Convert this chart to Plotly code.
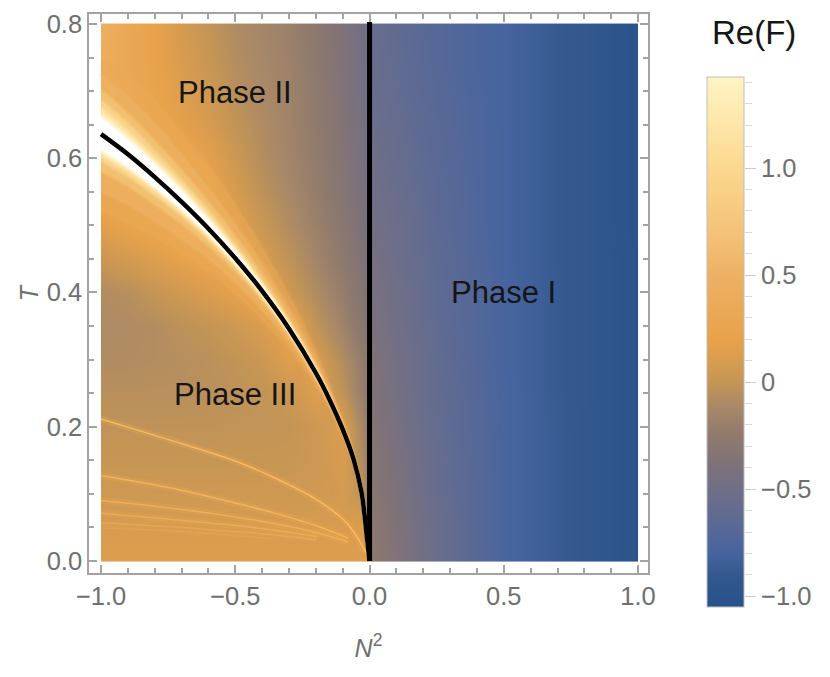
import plotly.graph_objects as go

# background Re(F), smooth part only (the glow along the curve is on top)
x_grid = [-1, -.9, -.8, -.7, -.6, -.5, -.4, -.3, -.2, -.1, -.03, -.003, .003, .1, .25, .5, .75, 1]
t_grid = [0, .02, .05, .1, .15, .2, .25, .3, .35, .4, .45, .5, .55, .6, .65, .7, .75, .8]
z_grid = [
    [.13, .13, .13, .13, .13, .13, .13, .13, .13, .13, .13, .13, -.25, -.36, -.54, -.78, -.89, -1.0],
    [.12, .12, .12, .12, .12, .12, .12, .12, .12, .12, .12, .0, -.26, -.37, -.55, -.78, -.89, -1.0],
    [.09, .09, .09, .09, .09, .09, .09, .09, .09, .1, .13, -.22, -.27, -.38, -.55, -.78, -.89, -1.0],
    [.05, .05, .05, .05, .05, .05, .05, .05, .06, .08, -.02, -.24, -.3, -.4, -.57, -.78, -.89, -1.0],
    [.015, .015, .015, .015, .015, .015, .015, .02, .04, .1, -.08, -.25, -.32, -.42, -.58, -.78, -.89, -1.0],
    [-.02, -.02, -.02, -.02, -.02, -.01, -.01, .0, .05, .12, -.13, -.27, -.34, -.44, -.59, -.78, -.89, -1.0],
    [-.05, -.05, -.05, -.05, -.04, -.03, -.01, .03, .14, -.02, -.2, -.29, -.36, -.46, -.6, -.78, -.9, -1.0],
    [-.08, -.08, -.07, -.06, -.04, -.01, .04, .14, .1, -.08, -.23, -.31, -.38, -.47, -.61, -.79, -.9, -1.0],
    [-.1, -.09, -.07, -.03, .0, .05, .12, .2, -.01, -.17, -.3, -.37, -.4, -.49, -.62, -.79, -.9, -1.0],
    [-.08, -.05, .01, .06, .12, .18, .22, .05, -.09, -.22, -.34, -.4, -.42, -.5, -.63, -.79, -.9, -1.0],
    [.03, .08, .14, .2, .24, .25, .1, -.02, -.15, -.27, -.37, -.43, -.44, -.52, -.64, -.8, -.9, -1.0],
    [.16, .22, .27, .28, .28, .16, .03, -.08, -.19, -.3, -.4, -.45, -.47, -.53, -.65, -.8, -.9, -1.01],
    [.28, .3, .3, .3, .22, .09, -.03, -.12, -.22, -.33, -.42, -.47, -.49, -.55, -.66, -.8, -.9, -1.01],
    [.32, .32, .3, .24, .17, .04, -.07, -.15, -.24, -.34, -.44, -.49, -.51, -.57, -.67, -.8, -.9, -1.01],
    [.36, .33, .26, .17, .1, -.01, -.09, -.16, -.25, -.36, -.45, -.5, -.53, -.58, -.68, -.8, -.9, -1.01],
    [.38, .32, .22, .13, .05, -.05, -.11, -.17, -.26, -.37, -.46, -.5, -.54, -.6, -.69, -.8, -.9, -1.01],
    [.42, .31, .2, .1, .02, -.07, -.13, -.18, -.27, -.38, -.47, -.51, -.55, -.61, -.7, -.8, -.9, -1.01],
    [.48, .3, .19, .08, .0, -.09, -.14, -.19, -.28, -.39, -.48, -.52, -.56, -.62, -.7, -.8, -.9, -1.01],
]

# phase boundary, N^2 and T
curve_x = [-1, -.9, -.8, -.7, -.6, -.5, -.4, -.3, -.2, -.15, -.1, -.06, -.03, -.01, 0]
curve_t = [.636, .606, .572, .535, .495, .451, .402, .346, .28, .241, .196, .152, .102, .036, 0]
line_x = [0, 0]
line_t = [0, .803]

# how far each level of the glow reaches above / below the curve, in T
glow_colors = ['rgba(235,170,86,.5)', 'rgba(237,177,98,.75)', '#f2c072', '#f9d286', '#fce0a0', '#fff0c0', '#ffffff']
glow_soft = ['rgba(235,170,86,.2)', 'rgba(237,177,98,.35)', 'rgba(242,192,114,.45)', 'rgba(249,210,134,.45)',
             'rgba(252,224,160,.45)', 'rgba(255,240,192,.45)', 'rgba(255,255,255,.45)']
glow_above = [
    [.11, .12, .115, .105, .095, .08, .065, .05, .033, .024, .016, .009, .004, .002, 0],
    [.09, .085, .08, .07, .06, .05, .04, .03, .021, .015, .01, .006, .003, .001, 0],
    [.065, .06, .053, .046, .039, .032, .025, .018, .012, .009, .006, .003, .002, .001, 0],
    [.05, .045, .039, .033, .027, .021, .016, .011, .008, .005, .003, .002, .001, 0, 0],
    [.04, .035, .03, .026, .021, .016, .012, .008, .006, .004, .002, .001, 0, 0, 0],
    [.032, .028, .024, .02, .016, .012, .009, .006, .004, .002, .001, .0005, 0, 0, 0],
    [.024, .021, .018, .015, .012, .009, .006, .004, .002, .001, 0, 0, 0, 0, 0],
]
glow_below = [
    [.115, .105, .09, .078, .066, .054, .043, .031, .02, .014, .01, .006, .003, .001, 0],
    [.085, .075, .065, .055, .045, .036, .028, .02, .013, .009, .006, .004, .002, .001, 0],
    [.055, .047, .04, .032, .025, .019, .015, .011, .007, .005, .003, .002, .001, 0, 0],
    [.04, .033, .027, .021, .017, .013, .01, .007, .005, .003, .002, .001, 0, 0, 0],
    [.033, .027, .022, .017, .013, .01, .007, .005, .003, .002, .001, 0, 0, 0, 0],
    [.028, .022, .017, .013, .01, .008, .005, .003, .002, .001, 0, 0, 0, 0, 0],
    [.023, .018, .014, .01, .007, .005, .003, .002, 0, 0, 0, 0, 0, 0, 0],
]

# the thin ridges in phase III, the lower ones fade out before the origin
ridge_x = [-1, -.743, -.508, -.36, -.196, -.084, -.01]
ridge_1 = [.2115, .18, .15, .125, .091, .056, .01]
ridge_x_short = [-1, -.743, -.508, -.36, -.196, -.08]
ridge_2 = [.127, .109, .087, .072, .052, .034]
ridge_3 = [.09, .079, .066, .056, .042, .028]
ridge_4 = [.071, .062, .053, .046, .036]
ridge_5 = [.057, .051, .044, .039, .031]
ridge_6 = [.049, .045, .038, .033]

colorscale_z = [-1.05, -.89, -.8, -.7, -.5, -.38, -.25, -.12, 0, .1, .196, .5, .75, 1.0, 1.2, 1.425]
colorscale_c = ['#26528a', '#35598f', '#46649f', '#566897', '#706f88', '#7f7278', '#8f7a6d', '#a88868',
                '#c49555', '#d89c50', '#e8a24a', '#edb165', '#f5c67d', '#fbd88e', '#fee6a8', '#fff4c4']
bar_ticks = [-1, -.5, 0, .5, 1]
bar_labels = ['\u22121.0', '\u22120.5', '0', '0.5', '1.0']

# the page body has an 8px margin, pixel positions below are those of the final picture
W, H = 814, 661
def px(v):
    return (v - 8) / W
def py(v):
    return 1 - (v - 8) / H

zmin, zmax = colorscale_z[0], colorscale_z[-1]
scale = [[(z - zmin) / (zmax - zmin), c] for z, c in zip(colorscale_z, colorscale_c)]

frame = '#a3a3a3'
text_gray = '#6f6f6f'
font_name = 'Liberation Sans'

# a heatmap reaches half a cell past its outer centres, so pin the edges with very thin cells
z_cells = [[r[0]] + r + [r[-1]] for r in z_grid]
z_cells = [z_cells[0]] + z_cells + [z_cells[-1]]
x_cells = [-1, -.9995] + x_grid[1:] + [1.0005]
t_cells = [0, .0005] + t_grid[1:] + [.8005]

fig = go.Figure()

fig.add_trace(go.Heatmap(
    x=x_cells, y=t_cells, z=z_cells, zmin=zmin, zmax=zmax, colorscale=scale, zsmooth='best',
    colorbar=dict(x=px(707), xanchor='left', xpad=0, y=py(77), yanchor='top', ypad=0,
                  len=530 / H, thickness=37, outlinecolor='#bdbdbd', outlinewidth=1,
                  ticks='', showticklabels=False),
))

for above, below, color, soft in zip(glow_above, glow_below, glow_colors, glow_soft):
    upper = [t + d for t, d in zip(curve_t, above)]
    lower = [t - d for t, d in zip(curve_t, below)]
    fig.add_trace(go.Scatter(
        x=curve_x + curve_x[::-1], y=upper + lower[::-1], mode='lines', fill='toself',
        fillcolor=color, line=dict(width=0, shape='spline'), hoverinfo='skip', showlegend=False,
    ))
    # soft edge so the levels do not show as steps
    for edge in (upper, lower):
        fig.add_trace(go.Scatter(x=curve_x, y=edge, mode='lines', hoverinfo='skip', showlegend=False,
                                 line=dict(color=soft, width=4, shape='spline')))

ridges = [(ridge_x, ridge_1, .3, .85), (ridge_x_short, ridge_2, .28, .7), (ridge_x_short, ridge_3, .25, .55),
          (ridge_x_short, ridge_4, .2, .45), (ridge_x_short, ridge_5, .15, .35), (ridge_x_short, ridge_6, .1, .2)]
for rx, ridge, glow_a, core_a in ridges:
    fig.add_trace(go.Scatter(x=rx[:len(ridge)], y=ridge, mode='lines', showlegend=False,
                             line=dict(color=f'rgba(238,168,75,{glow_a})', width=7, shape='spline')))
    fig.add_trace(go.Scatter(x=rx[:len(ridge)], y=ridge, mode='lines', showlegend=False,
                             line=dict(color=f'rgba(250,190,105,{core_a})', width=1.5, shape='spline')))

fig.add_trace(go.Scatter(x=curve_x, y=curve_t, mode='lines', showlegend=False,
                         line=dict(color='black', width=4.5, shape='spline')))
fig.add_trace(go.Scatter(x=line_x, y=line_t, mode='lines', showlegend=False,
                         line=dict(color='black', width=5)))

# axes only used for the ticks beside the colour bar
fig.add_trace(go.Scatter(x=[], y=[], xaxis='x2', yaxis='y2', showlegend=False))

axis_common = dict(showgrid=False, zeroline=False, showline=True, linecolor=frame, linewidth=1.5,
                   mirror='ticks', ticks='inside', ticklen=8, tickcolor=frame, tickwidth=1.5, automargin=False,
                   tickfont=dict(size=25.5, color=text_gray, family=font_name))

fig.update_layout(
    template='none',
    width=W, height=H, margin=dict(l=0, r=0, t=0, b=0), plot_bgcolor='white', paper_bgcolor='white',
    font=dict(family=font_name),
    xaxis=dict(domain=[px(89), px(648)], range=[-1.045, 1.037], tick0=-1, dtick=.5, tickformat='.1f',
               minor=dict(ticks='inside', ticklen=5, dtick=.1, tick0=0, tickcolor=frame, tickwidth=1.5),
               title=dict(text='<i>N</i><sup>2</sup>', font=dict(size=25, color=text_gray), standoff=30),
               **axis_common),
    yaxis=dict(domain=[py(573), py(14)], range=[-.018, .815], tick0=0, dtick=.2, tickformat='.1f',
               minor=dict(ticks='inside', ticklen=5, dtick=.05, tick0=0, tickcolor=frame, tickwidth=1.5),
               title=dict(text='<i>T</i>', font=dict(size=25, color=text_gray), standoff=1),
               **axis_common),
    xaxis2=dict(domain=[px(707), px(744)], range=[0, 1], visible=False, anchor='y2', automargin=False),
    yaxis2=dict(domain=[py(607), py(77)], range=[zmin, zmax], anchor='x2', side='right', automargin=False,
                showgrid=False, zeroline=False, showline=False, tickvals=bar_ticks, ticktext=bar_labels,
                ticks='outside', ticklen=11, tickcolor='#c8c8c8', tickwidth=1,
                minor=dict(ticks='outside', ticklen=7, dtick=.1, tick0=0, tickcolor='#d8d8d8', tickwidth=1),
                tickfont=dict(size=25.5, color=text_gray, family=font_name)),
    annotations=[
        dict(x=-.5, y=.698, text='Phase II', showarrow=False, font=dict(size=31, color='#151515')),
        dict(x=-.5, y=.248, text='Phase III', showarrow=False, font=dict(size=31, color='#151515')),
        dict(x=.5, y=.4, text='Phase I', showarrow=False, font=dict(size=31, color='#151515')),
        dict(x=px(754), y=py(32), xref='paper', yref='paper', xanchor='center', yanchor='middle', text='Re(F)',
             showarrow=False, font=dict(size=33, color='#151515')),
    ],
)

fig.write_html("out.html")
